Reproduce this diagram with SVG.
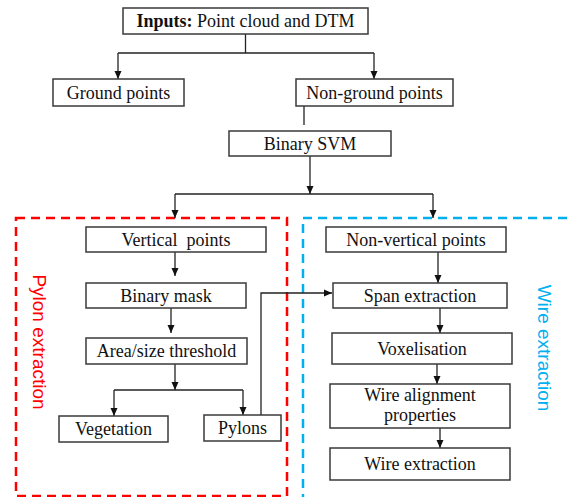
<svg xmlns="http://www.w3.org/2000/svg" width="571" height="497" viewBox="0 0 571 497">
<style>
.box{fill:#fff;stroke:#3a3a3a;stroke-width:1.5}
.t{font-family:"Liberation Serif","Times New Roman",serif;font-size:18px;fill:#111;text-anchor:middle;white-space:pre}
.ln{fill:none;stroke:#222;stroke-width:1.3}
.lab{font-family:"Liberation Sans",Arial,sans-serif;font-size:19px;text-anchor:middle}
</style>
<defs>
<marker id="ah" markerUnits="userSpaceOnUse" markerWidth="8" markerHeight="8" refX="8" refY="4" orient="auto">
<path d="M0,0.5 L8,4 L0,7.5 z" fill="#111"/>
</marker>
</defs>
<rect id="pylon-region" x="16" y="218" width="271" height="278" fill="none" stroke="#ff0000" stroke-width="2.5" stroke-dasharray="9,6"/>
<rect id="wire-region" x="303" y="218" width="300" height="300" fill="none" stroke="#00b0f0" stroke-width="2.5" stroke-dasharray="9,6"/>
<text class="lab" fill="#ff0000" transform="translate(33,342) rotate(90)">Pylon extraction</text>
<text class="lab" fill="#00b0f0" transform="translate(538,348) rotate(90)">Wire extraction</text>
<g id="connectors">
<path class="ln" d="M245.5,34 V53"/>
<path class="ln" d="M118,53 H374"/>
<path class="ln" d="M118,53 V79" marker-end="url(#ah)"/>
<path class="ln" d="M374,53 V79" marker-end="url(#ah)"/>
<path class="ln" d="M304,106 V125"/>
<path class="ln" d="M310,156 V194" marker-end="url(#ah)"/>
<path class="ln" d="M175,194 H433"/>
<path class="ln" d="M175,194 V218" marker-end="url(#ah)"/>
<path class="ln" d="M433,194 V218" marker-end="url(#ah)"/>
<path class="ln" d="M175,252 V276" marker-end="url(#ah)"/>
<path class="ln" d="M171,308 V333" marker-end="url(#ah)"/>
<path class="ln" d="M175,364 V390" marker-end="url(#ah)"/>
<path class="ln" d="M114,390 H243"/>
<path class="ln" d="M114,390 V416" marker-end="url(#ah)"/>
<path class="ln" d="M243,390 V415" marker-end="url(#ah)"/>
<path class="ln" d="M261,415 V293 H332" marker-end="url(#ah)"/>
<path class="ln" d="M438,252 V283" marker-end="url(#ah)"/>
<path class="ln" d="M440,308 V333" marker-end="url(#ah)"/>
<path class="ln" d="M437,364 V384" marker-end="url(#ah)"/>
<path class="ln" d="M440,428 V448" marker-end="url(#ah)"/>
</g>
<g id="inputs"><rect class="box" x="123" y="8" width="245" height="26"/><text class="t" x="245.5" y="27"><tspan font-weight="bold">Inputs:</tspan> Point cloud and DTM</text></g>
<g id="ground"><rect class="box" x="53" y="79" width="131" height="27"/><text class="t" x="118.5" y="99">Ground points</text></g>
<g id="nonground"><rect class="box" x="296" y="79" width="157" height="27"/><text class="t" x="374.5" y="99">Non-ground points</text></g>
<g id="svm"><rect class="box" x="229" y="131" width="162" height="25"/><text class="t" x="310" y="150">Binary SVM</text></g>
<g id="vertical"><rect class="box" x="86" y="227" width="180" height="25"/><text class="t" x="176" y="246">Vertical  points</text></g>
<g id="mask"><rect class="box" x="86" y="283" width="160" height="25"/><text class="t" x="166" y="302">Binary mask</text></g>
<g id="area"><rect class="box" x="86" y="338" width="161" height="26"/><text class="t" x="166.5" y="357">Area/size threshold</text></g>
<g id="vegetation"><rect class="box" x="59" y="416" width="109" height="26"/><text class="t" x="113.5" y="435">Vegetation</text></g>
<g id="pylons"><rect class="box" x="204" y="415" width="77" height="26"/><text class="t" x="242.5" y="434">Pylons</text></g>
<g id="nonvertical"><rect class="box" x="326" y="227" width="180" height="25"/><text class="t" x="416" y="246">Non-vertical points</text></g>
<g id="span"><rect class="box" x="333" y="283" width="174" height="25"/><text class="t" x="420" y="302">Span extraction</text></g>
<g id="voxel"><rect class="box" x="332" y="333" width="180" height="31"/><text class="t" x="422" y="355">Voxelisation</text></g>
<g id="alignment"><rect class="box" x="330" y="384" width="180" height="44"/><text class="t" x="420" y="401">Wire alignment</text><text class="t" x="420" y="421">properties</text></g>
<g id="wireext"><rect class="box" x="330" y="448" width="180" height="32"/><text class="t" x="420" y="470">Wire extraction</text></g>
</svg>
